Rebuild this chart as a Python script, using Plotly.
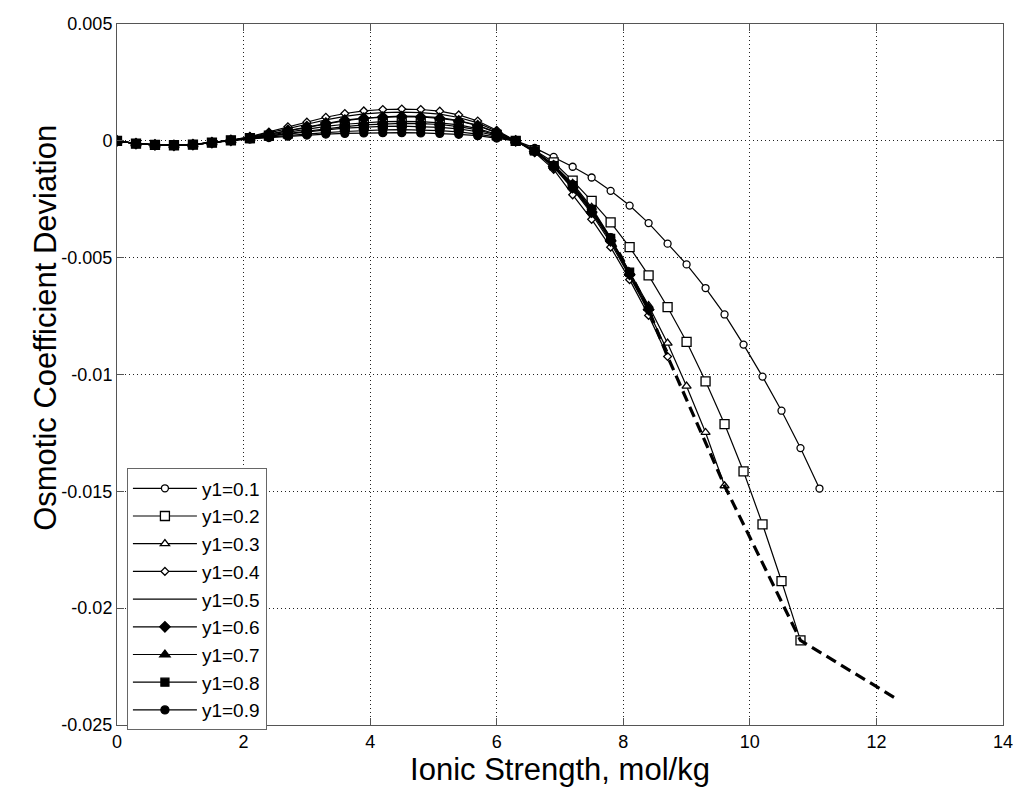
import plotly.graph_objects as go

# Ionic strength grid (mol/kg) shared by all mixtures
ionic_strength = [0.0, 0.3, 0.6, 0.9, 1.2, 1.5, 1.8, 2.1, 2.4, 2.7, 3.0, 3.3, 3.6,
                  3.9, 4.2, 4.5, 4.8, 5.1, 5.4, 5.7, 6.0, 6.3, 6.6, 6.9, 7.2, 7.5,
                  7.8, 8.1, 8.4, 8.7, 9.0, 9.3, 9.6, 9.9, 10.2, 10.5, 10.8, 11.1]

# Osmotic coefficient deviation for each mole fraction y1
dev_y01 = [0, -0.00011, -0.00016, -0.00018, -0.00015, -0.00008, 0.00002, 0.00010,
           0.00017, 0.00023, 0.00029, 0.00035, 0.00040, 0.00044, 0.00047, 0.00048,
           0.00047, 0.00044, 0.00038, 0.00029, 0.00016, 0.0,
           -0.00030, -0.00069, -0.00111, -0.00157, -0.00214, -0.00277, -0.00352,
           -0.00440, -0.00529, -0.00630, -0.00743, -0.00872, -0.01009, -0.01155,
           -0.01315, -0.01488]
dev_y02 = [0, -0.00012, -0.00017, -0.00019, -0.00016, -0.00008, 0.00002, 0.00012,
           0.00022, 0.00032, 0.00042, 0.00052, 0.00061, 0.00068, 0.00073, 0.00075,
           0.00074, 0.00070, 0.00061, 0.00047, 0.00025, 0.0,
           -0.00040, -0.00092, -0.00170, -0.00257, -0.00349, -0.00455, -0.00576,
           -0.00712, -0.00860, -0.01029, -0.01212, -0.01415, -0.01641, -0.01884,
           -0.02138]
dev_y03 = [0, -0.00012, -0.00017, -0.00019, -0.00016, -0.00008, 0.00002, 0.00014,
           0.00028, 0.00043, 0.00058, 0.00073, 0.00086, 0.00096, 0.00103, 0.00106,
           0.00105, 0.00099, 0.00087, 0.00066, 0.00035, 0.0,
           -0.00042, -0.00102, -0.00182, -0.00285, -0.00415, -0.00562, -0.00705,
           -0.00866, -0.01050, -0.01248, -0.01476]
dev_y04 = [0, -0.00012, -0.00017, -0.00019, -0.00016, -0.00008, 0.00002, 0.00018,
           0.00038, 0.00060, 0.00080, 0.00101, 0.00117, 0.00128, 0.00134, 0.00136,
           0.00134, 0.00127, 0.00111, 0.00085, 0.00045, 0.0,
           -0.00050, -0.00122, -0.00231, -0.00336, -0.00455, -0.00594, -0.00747,
           -0.00923]
dev_y05 = [0, -0.00012, -0.00017, -0.00019, -0.00016, -0.00008, 0.00002, 0.00016,
           0.00033, 0.00052, 0.00071, 0.00090, 0.00105, 0.00115, 0.00121, 0.00123,
           0.00121, 0.00114, 0.00100, 0.00077, 0.00041, 0.0,
           -0.00046, -0.00112, -0.00205, -0.00312, -0.00437, -0.00580, -0.00730,
           -0.00900]
dev_y06 = [0, -0.00012, -0.00017, -0.00019, -0.00016, -0.00008, 0.00002, 0.00014,
           0.00029, 0.00045, 0.00061, 0.00076, 0.00089, 0.00097, 0.00102, 0.00104,
           0.00102, 0.00096, 0.00085, 0.00065, 0.00035, 0.0,
           -0.00045, -0.00110, -0.00200, -0.00305, -0.00428, -0.00572, -0.00722]
dev_y07 = [0, -0.00012, -0.00017, -0.00019, -0.00016, -0.00008, 0.00002, 0.00012,
           0.00025, 0.00038, 0.00050, 0.00062, 0.00071, 0.00078, 0.00082, 0.00083,
           0.00082, 0.00077, 0.00068, 0.00052, 0.00028, 0.0,
           -0.00044, -0.00108, -0.00196, -0.00300, -0.00422, -0.00566, -0.00715]
dev_y08 = [0, -0.00012, -0.00017, -0.00019, -0.00016, -0.00008, 0.00002, 0.00010,
           0.00020, 0.00030, 0.00039, 0.00047, 0.00054, 0.00059, 0.00062, 0.00063,
           0.00062, 0.00058, 0.00051, 0.00039, 0.00021, 0.0,
           -0.00043, -0.00106, -0.00192, -0.00296, -0.00418, -0.00562]
dev_y09 = [0, -0.00012, -0.00017, -0.00019, -0.00016, -0.00008, 0.00002, 0.00008,
           0.00014, 0.00020, 0.00025, 0.00029, 0.00032, 0.00034, 0.00035, 0.00035,
           0.00034, 0.00032, 0.00028, 0.00022, 0.00012, 0.0,
           -0.00042, -0.00104, -0.00188, -0.00292, -0.00414]

# Saturation boundary joining the end points of the mixtures
limit_I = [7.8, 8.1, 8.4, 8.7, 9.6, 10.8, 12.33]
limit_dev = [-0.00414, -0.00562, -0.00722, -0.00923, -0.01476, -0.02138, -0.0239]

labels = ["y1=0.1", "y1=0.2", "y1=0.3", "y1=0.4", "y1=0.5",
          "y1=0.6", "y1=0.7", "y1=0.8", "y1=0.9"]
series = [dev_y01, dev_y02, dev_y03, dev_y04, dev_y05,
          dev_y06, dev_y07, dev_y08, dev_y09]

# marker symbol, size, filled? for each series (None = plain line)
styles = [("circle", 7, False), ("square", 9, False), ("triangle-up", 8, False),
          ("diamond", 6, False), (None, 0, False), ("diamond", 8, True),
          ("triangle-up", 9, True), ("square", 8, True), ("circle", 8, True)]

fig = go.Figure()
for name, ys, (sym, size, filled) in zip(labels, series, styles):
    xs = ionic_strength[:len(ys)]
    if sym is None:
        fig.add_trace(go.Scatter(x=xs, y=ys, mode="lines", name=name,
                                 line=dict(color="black", width=1.2)))
    else:
        fig.add_trace(go.Scatter(
            x=xs, y=ys, mode="lines+markers", name=name,
            line=dict(color="black", width=1.2),
            marker=dict(symbol=sym, size=size,
                        color="black" if filled else "white",
                        line=dict(color="black", width=1.3))))

fig.add_trace(go.Scatter(x=limit_I, y=limit_dev, mode="lines", showlegend=False,
                         line=dict(color="black", width=3.2, dash="11px,6px")))

y_ticks = [0.005, 0, -0.005, -0.01, -0.015, -0.02, -0.025]
y_ticktext = ["0.005", "0", "-0.005", "-0.01", "-0.015", "-0.02", "-0.025"]
x_ticks = [0, 2, 4, 6, 8, 10, 12, 14]

axis_common = dict(showline=True, linecolor="#555555", linewidth=1, mirror="ticks",
                   ticks="inside", ticklen=7, tickcolor="#555555",
                   showgrid=True, gridcolor="#222222", gridwidth=1, griddash="1px,3px",
                   zeroline=False, tickfont=dict(size=18, color="black"))

fig.update_layout(
    width=1025, height=794,
    margin=dict(l=117, r=15, t=24, b=69),
    paper_bgcolor="white", plot_bgcolor="white",
    font=dict(family="Liberation Sans, Arial, sans-serif", color="black"),
    xaxis=dict(range=[0, 14], tickvals=x_ticks,
               title=dict(text="Ionic Strength, mol/kg", font=dict(size=31), standoff=2),
               **axis_common),
    yaxis=dict(range=[-0.025, 0.005], tickvals=y_ticks, ticktext=y_ticktext,
               **axis_common),
    legend=dict(x=0.0112, y=0.366, xanchor="left", yanchor="top",
                bgcolor="white", bordercolor="#666666", borderwidth=1,
                font=dict(size=19), tracegroupgap=0, itemwidth=64),
    annotations=[dict(text="Osmotic Coefficient Deviation", textangle=-90,
                      xref="paper", yref="paper", x=-0.0806, y=0.566,
                      xanchor="center", yanchor="middle", showarrow=False,
                      font=dict(size=31, color="black"))],
)

fig.write_html("out.html")
